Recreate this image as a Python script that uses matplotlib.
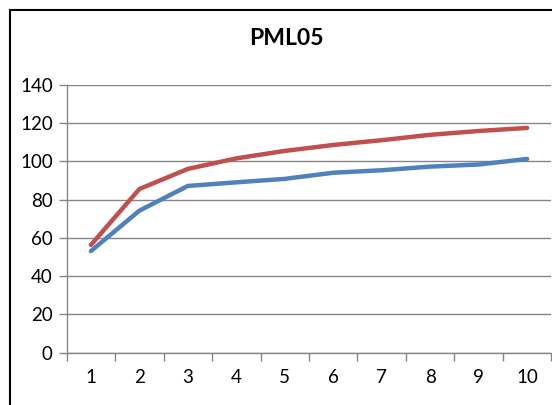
import matplotlib.pyplot as plt
from matplotlib.patches import Rectangle
import numpy as np

categories = ['1', '2', '3', '4', '5', '6', '7', '8', '9', '10']
red_values = [56.3, 85.5, 96.0, 101.5, 105.4, 108.5, 111.0, 113.8, 115.8, 117.4]
blue_values = [53.1, 74.2, 87.1, 89.0, 90.8, 94.0, 95.3, 97.2, 98.3, 101.2]
y_ticks = [0, 20, 40, 60, 80, 100, 120, 140]

plt.rcParams['font.family'] = ['Lato', 'DejaVu Sans']

fig = plt.figure(figsize=(5.52, 4.05), dpi=100)
ax = fig.add_axes([0.1208, 0.129, 0.878, 0.662])

x = np.arange(len(categories))
ax.plot(x, red_values, color='#C0504D', linewidth=3.2, solid_capstyle='round', zorder=3)
ax.plot(x, blue_values, color='#4F81BD', linewidth=3.2, solid_capstyle='round', zorder=3)

ax.set_xlim(-0.5, len(categories) - 0.5)
ax.set_ylim(0, 140)
ax.set_yticks(y_ticks)
ax.set_yticklabels([str(v) for v in y_ticks])
ax.set_xticks(x)
ax.set_xticklabels(categories)
ax.set_xticks(np.arange(len(categories) + 1) - 0.5, minor=True)

grid_col = '#868686'
ax.grid(axis='y', color=grid_col, linewidth=1.0)
ax.set_axisbelow(True)
for side in ['top', 'right']:
    ax.spines[side].set_visible(False)
for side in ['left', 'bottom']:
    ax.spines[side].set_color(grid_col)
    ax.spines[side].set_linewidth(1.0)

ax.tick_params(axis='y', length=6, width=1.0, color=grid_col, labelsize=13.5, pad=4)
ax.tick_params(axis='x', which='major', length=0, labelsize=13.5, pad=12)
ax.tick_params(axis='x', which='minor', length=6, width=1.0, color=grid_col)

fig.text(0.519, 0.905, 'PML05', ha='center', va='center', fontsize=16.5, fontweight='bold')

# chart frame
fig.patches.append(Rectangle((10 / 552, -0.1), 1.2, 1.1 - 10 / 405, transform=fig.transFigure,
                             fill=False, edgecolor='black', linewidth=1.5))

fig.savefig('out.png', dpi=100)
